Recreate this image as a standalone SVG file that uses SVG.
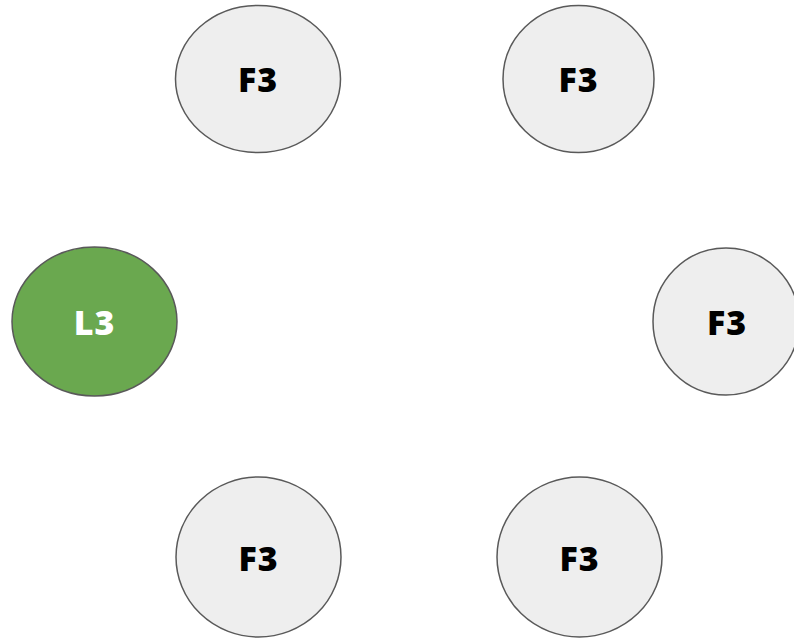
<svg xmlns="http://www.w3.org/2000/svg" width="794" height="638" viewBox="0 0 794 638">
<style>
.n{fill:#eeeeee;stroke:#595959;stroke-width:1.5}
.g{fill:#6aa84f;stroke:#595959;stroke-width:1.5}
.t{font-family:"Open Sans","Liberation Sans",sans-serif;font-weight:800;font-size:34px;letter-spacing:1px;text-anchor:middle;dominant-baseline:central;fill:#000}
.w{fill:#ffffff}
</style>
<rect width="794" height="638" fill="#ffffff"/>
<g id="connectors"></g>
<g id="f3-top-left"><ellipse class="n" cx="258" cy="79" rx="82.5" ry="73.5"/><text class="t" x="258" y="79">F3</text></g>
<g id="f3-top-right"><ellipse class="n" cx="578.5" cy="79" rx="75.5" ry="73.5"/><text class="t" x="578.5" y="79">F3</text></g>
<g id="l3"><ellipse class="g" cx="94.5" cy="321.5" rx="82.5" ry="74.5"/><text class="t w" x="94.5" y="322">L3</text></g>
<g id="f3-right"><ellipse class="n" cx="726" cy="321.5" rx="73" ry="73.5"/><text class="t" x="727" y="322">F3</text></g>
<g id="f3-bottom-left"><ellipse class="n" cx="258.5" cy="557" rx="82.5" ry="80"/><text class="t" x="258.5" y="558">F3</text></g>
<g id="f3-bottom-right"><ellipse class="n" cx="579.5" cy="557" rx="82.5" ry="80"/><text class="t" x="579.5" y="558">F3</text></g>
</svg>
